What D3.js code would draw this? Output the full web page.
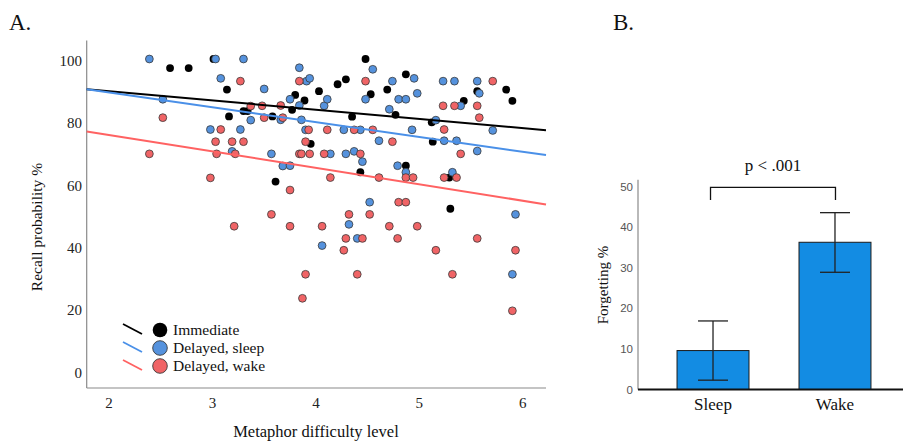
<!DOCTYPE html>
<html>
<head>
<meta charset="utf-8">
<script src="https://cdn.jsdelivr.net/npm/d3@7"></script>
<style>
  body { margin: 0; background: #fff; }
  svg { display: block; font-family: "Liberation Serif", "Times New Roman", serif; }
</style>
</head>
<body>
<script>
// panel A: recall probability vs metaphor difficulty, [difficulty, recall %]
const immediatePts = [
  [2.59, 97.1], [2.77, 97.1], [3.01, 100], [3.14, 90.2], [3.16, 81.6], [3.30, 83.3],
  [3.34, 83.3], [3.58, 81.6], [3.61, 60.7], [3.77, 83.7], [3.80, 88.5], [3.89, 86.7],
  [3.95, 72.8], [4.03, 89.7], [4.21, 91.9], [4.29, 93.5], [4.35, 81.5], [4.43, 63.7],
  [4.48, 100], [4.53, 88.7], [4.69, 90.2], [4.77, 82.1], [4.87, 95.1], [4.87, 65.8],
  [5.12, 79.7], [5.13, 73.5], [5.29, 62.0], [5.30, 52.0], [5.43, 86.6], [5.56, 89.7],
  [5.84, 90.2], [5.90, 86.6]
];
const sleepPts = [
  [2.39, 100], [2.52, 87.1], [2.98, 77.4], [3.03, 100], [3.08, 93.8], [3.19, 70.4],
  [3.27, 77.4], [3.30, 100], [3.37, 80.4], [3.50, 90.4], [3.57, 69.6], [3.66, 80.5],
  [3.68, 65.7], [3.75, 65.8], [3.75, 87.1], [3.84, 97.2], [3.84, 85.1], [3.86, 80.5],
  [3.90, 77.3], [3.91, 92.9], [3.94, 93.8], [4.06, 40.2], [4.08, 85.0], [4.11, 87.1],
  [4.14, 69.6], [4.27, 77.3], [4.29, 69.6], [4.32, 47.0], [4.37, 70.4], [4.40, 42.5],
  [4.43, 77.3], [4.45, 67.1], [4.48, 87.1], [4.52, 54.1], [4.55, 96.7], [4.61, 73.8],
  [4.71, 83.9], [4.74, 92.9], [4.79, 65.8], [4.80, 87.1], [4.87, 87.1], [4.87, 63.7],
  [4.93, 77.3], [4.95, 93.8], [4.98, 89.0], [5.16, 80.4], [5.23, 92.9], [5.24, 73.8],
  [5.32, 63.7], [5.34, 92.9], [5.36, 73.8], [5.40, 85.0], [5.56, 70.5], [5.56, 92.9],
  [5.58, 89.0], [5.71, 77.1], [5.90, 31.0], [5.93, 50.2]
];
const wakePts = [
  [2.39, 69.6], [2.52, 81.2], [2.98, 61.9], [3.03, 73.5], [3.04, 69.6], [3.08, 77.4],
  [3.19, 73.5], [3.21, 46.4], [3.22, 69.6], [3.27, 92.9], [3.30, 73.5], [3.37, 84.9],
  [3.48, 85.0], [3.50, 81.2], [3.57, 50.2], [3.66, 85.1], [3.68, 81.2], [3.75, 58.0],
  [3.75, 46.4], [3.84, 92.9], [3.84, 69.6], [3.86, 69.6], [3.87, 23.3], [3.90, 73.5],
  [3.90, 31.0], [3.93, 77.3], [3.94, 69.6], [4.06, 46.4], [4.08, 69.6], [4.11, 77.3],
  [4.14, 62.0], [4.27, 38.7], [4.29, 42.5], [4.32, 50.2], [4.37, 77.3], [4.40, 31.0],
  [4.43, 69.6], [4.45, 42.5], [4.48, 92.9], [4.52, 50.2], [4.55, 77.3], [4.61, 62.0],
  [4.71, 46.4], [4.74, 73.5], [4.79, 42.5], [4.80, 54.1], [4.87, 54.1], [4.87, 62.0],
  [4.94, 62.0], [4.98, 46.4], [5.16, 38.7], [5.24, 77.4], [5.23, 85.0], [5.24, 62.0],
  [5.32, 31.0], [5.34, 85.0], [5.36, 62.0], [5.40, 69.6], [5.56, 85.0], [5.56, 42.5],
  [5.58, 81.2], [5.71, 92.9], [5.90, 19.3], [5.93, 38.7]
];
const groupNames = ['Immediate', 'Delayed, sleep', 'Delayed, wake'];
const groupColors = ['#000000', '#5592dd', '#f06466'];
const lineColors = ['#000000', '#4a90e8', '#ff6262'];
// fit lines, recall = intercept + slope * difficulty
const fitIntercepts = [95.56, 98.77, 86.2];
const fitSlopes = [-2.95, -4.75, -5.27];
const xTicksA = [2, 3, 4, 5, 6];
const yTicksA = [0, 20, 40, 60, 80, 100];

// panel B: forgetting %
const conditions = ['Sleep', 'Wake'];
const forgetMeans = [9.6, 36.3];
const ciLow = [2.3, 28.9];
const ciHigh = [16.9, 43.6];
const yTicksB = [0, 10, 20, 30, 40, 50];

const width = 903;
const height = 442;

const svg = d3.select('body').append('svg')
  .attr('width', width)
  .attr('height', height);

// ---------- panel A ----------
const xA = d3.scaleLinear().domain([1.784, 6.225]).range([86.7, 546]);
const yA = d3.scaleLinear().domain([0, 100]).range([371, 59]);
const yTop = yA.invert(40.5);
const yBot = yA.invert(388);

svg.append('text').attr('x', 9).attr('y', 30)
  .attr('font-size', 23).attr('fill', '#111').text('A.');

// axes lines
svg.append('line')
  .attr('x1', xA(xA.domain()[0])).attr('x2', xA(xA.domain()[0]))
  .attr('y1', yA(yTop)).attr('y2', yA(yBot))
  .attr('stroke', '#8a8a8a').attr('stroke-width', 1.2);
svg.append('line')
  .attr('x1', xA(xA.domain()[0])).attr('x2', xA(xA.domain()[1]))
  .attr('y1', yA(yBot)).attr('y2', yA(yBot))
  .attr('stroke', '#8a8a8a').attr('stroke-width', 1.2);

svg.append('g').selectAll('text')
  .data(yTicksA)
  .join('text')
  .attr('x', 82)
  .attr('y', (d) => yA(d) + 1.5)
  .attr('dy', '0.35em')
  .attr('text-anchor', 'end')
  .attr('font-size', 15)
  .attr('fill', '#222')
  .text((d) => d);

svg.append('g').selectAll('text')
  .data(xTicksA)
  .join('text')
  .attr('x', (d) => xA(d))
  .attr('y', 408)
  .attr('text-anchor', 'middle')
  .attr('font-size', 15)
  .attr('fill', '#222')
  .text((d) => d);

svg.append('text')
  .attr('transform', 'translate(42,227) rotate(-90)')
  .attr('text-anchor', 'middle')
  .attr('font-size', 15.5)
  .attr('fill', '#111')
  .text('Recall probability %');

svg.append('text')
  .attr('x', 316).attr('y', 437)
  .attr('text-anchor', 'middle')
  .attr('font-size', 16.5)
  .attr('fill', '#111')
  .text('Metaphor difficulty level');

// points, drawn in group order
const groups = [immediatePts, sleepPts, wakePts];
groups.forEach((pts, i) => {
  svg.append('g').selectAll('circle')
    .data(pts)
    .join('circle')
    .attr('cx', (d) => xA(d[0]))
    .attr('cy', (d) => yA(d[1]))
    .attr('r', 3.9)
    .attr('fill', groupColors[i])
    .attr('stroke', i === 0 ? 'none' : '#3a3a3a')
    .attr('stroke-width', 0.8);
});

// fit lines
const [x0, x1] = xA.domain();
fitIntercepts.forEach((a, i) => {
  const b = fitSlopes[i];
  svg.append('line')
    .attr('x1', xA(x0)).attr('y1', yA(a + b * x0))
    .attr('x2', xA(x1)).attr('y2', yA(a + b * x1))
    .attr('stroke', lineColors[i])
    .attr('stroke-width', 2);
});

// legend
const legend = svg.append('g').attr('transform', 'translate(0,330)');
groupNames.forEach((name, i) => {
  const row = legend.append('g').attr('transform', `translate(0,${i * 18})`);
  row.append('line')
    .attr('x1', 123).attr('y1', -6).attr('x2', 142).attr('y2', 4)
    .attr('stroke', lineColors[i]).attr('stroke-width', 1.8);
  row.append('circle')
    .attr('cx', 160).attr('cy', 0).attr('r', 7.3)
    .attr('fill', groupColors[i])
    .attr('stroke', i === 0 ? 'none' : '#3a3a3a')
    .attr('stroke-width', 0.9);
  row.append('text')
    .attr('x', 173).attr('y', 5)
    .attr('font-size', 15.5)
    .attr('fill', '#111')
    .text(name);
});

// ---------- panel B ----------
const xB = d3.scaleBand().domain(conditions).range([638, 910])
  .paddingInner(0.41).paddingOuter(0.32);
const yB = d3.scaleLinear().domain([0, 50]).range([389.5, 186.7]);

svg.append('text').attr('x', 613).attr('y', 30)
  .attr('font-size', 23).attr('fill', '#111').text('B.');

svg.append('line')
  .attr('x1', 638).attr('x2', 638)
  .attr('y1', yB(51.7)).attr('y2', yB(0))
  .attr('stroke', '#8a8a8a').attr('stroke-width', 1.2);

svg.append('g').selectAll('text')
  .data(yTicksB)
  .join('text')
  .attr('x', 633)
  .attr('y', (d) => yB(d))
  .attr('dy', '0.35em')
  .attr('text-anchor', 'end')
  .attr('font-family', '"Liberation Sans", Arial, sans-serif')
  .attr('font-size', 11.5)
  .attr('fill', '#555')
  .text((d) => d);

svg.append('text')
  .attr('transform', 'translate(608,285) rotate(-90)')
  .attr('text-anchor', 'middle')
  .attr('font-size', 15)
  .attr('fill', '#111')
  .text('Forgetting %');

svg.append('g').selectAll('rect')
  .data(conditions)
  .join('rect')
  .attr('x', (d) => xB(d))
  .attr('y', (d, i) => yB(forgetMeans[i]))
  .attr('width', xB.bandwidth())
  .attr('height', (d, i) => yB(0) - yB(forgetMeans[i]))
  .attr('fill', '#138ce3')
  .attr('stroke', '#1b1b1b')
  .attr('stroke-width', 1);

// error bars
conditions.forEach((c, i) => {
  const cx = xB(c) + xB.bandwidth() / 2;
  const g = svg.append('g').attr('stroke', '#222').attr('stroke-width', 1.3);
  g.append('line').attr('x1', cx).attr('x2', cx)
    .attr('y1', yB(ciLow[i])).attr('y2', yB(ciHigh[i]));
  g.append('line').attr('x1', cx - 15).attr('x2', cx + 15)
    .attr('y1', yB(ciHigh[i])).attr('y2', yB(ciHigh[i]));
  g.append('line').attr('x1', cx - 15).attr('x2', cx + 15)
    .attr('y1', yB(ciLow[i])).attr('y2', yB(ciLow[i]));
});

svg.append('line')
  .attr('x1', 638).attr('x2', width)
  .attr('y1', yB(0)).attr('y2', yB(0))
  .attr('stroke', '#111').attr('stroke-width', 1.8);

svg.append('g').selectAll('text')
  .data(conditions)
  .join('text')
  .attr('x', (d) => xB(d) + xB.bandwidth() / 2)
  .attr('y', 410)
  .attr('text-anchor', 'middle')
  .attr('font-size', 17)
  .attr('fill', '#111')
  .text((d) => d);

// significance bracket
const bx0 = xB('Sleep') + xB.bandwidth() / 2 - 2.5;
const bx1 = xB('Wake') + xB.bandwidth() / 2 + 0.5;
svg.append('path')
  .attr('d', `M${bx0},200V187.3H${bx1}V200`)
  .attr('fill', 'none')
  .attr('stroke', '#111')
  .attr('stroke-width', 1.3);
svg.append('text')
  .attr('x', (bx0 + bx1) / 2).attr('y', 171)
  .attr('text-anchor', 'middle')
  .attr('font-size', 17)
  .attr('fill', '#111')
  .text('p < .001');
</script>
</body>
</html>
